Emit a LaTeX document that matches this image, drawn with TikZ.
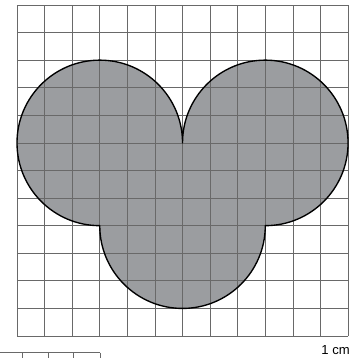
\documentclass[tikz,border=0pt]{standalone}
\usepackage{fontspec}
\setsansfont{Liberation Sans}
\definecolor{shapegray}{RGB}{155,157,160}
\definecolor{gridgray}{RGB}{105,105,105}
\begin{document}
\begin{tikzpicture}
  \useasboundingbox (-0.616,-0.797) rectangle (12.255,12.18);
  % circles of radius 3: left (3,7), right (9,7), bottom (6,4)
  \coordinate (cusp) at (6,7);
  \coordinate (A) at (3,4);
  \coordinate (B) at (9,4);
  % shaded shape
  \fill[shapegray] (cusp) arc (0:270:3) arc (180:360:3) arc (270:540:3) -- cycle;
  % grid
  \draw[gridgray, line width=0.7pt] (0,0) grid (12,12);
  % outline
  \draw[line width=1.4pt, line join=round] (cusp) arc (0:270:3) arc (180:360:3) arc (270:540:3) -- cycle;
  % strip below
  \coordinate (S1) at (-0.62,-0.6);
  \coordinate (S2) at (3.01,-0.6);
  \draw[gridgray, line width=0.7pt] (S1) -- (S2);
  \foreach \x in {0.18,1.12,2.06,3.01}
    \draw[gridgray, line width=0.7pt] (\x,-0.6) -- (\x,-0.8);
  % scale
  \node[anchor=base east, inner sep=0pt] (scale) at (12.07,-0.66) {\sffamily\fontsize{13.5}{15}\selectfont 1 cm};
\end{tikzpicture}
\end{document}
